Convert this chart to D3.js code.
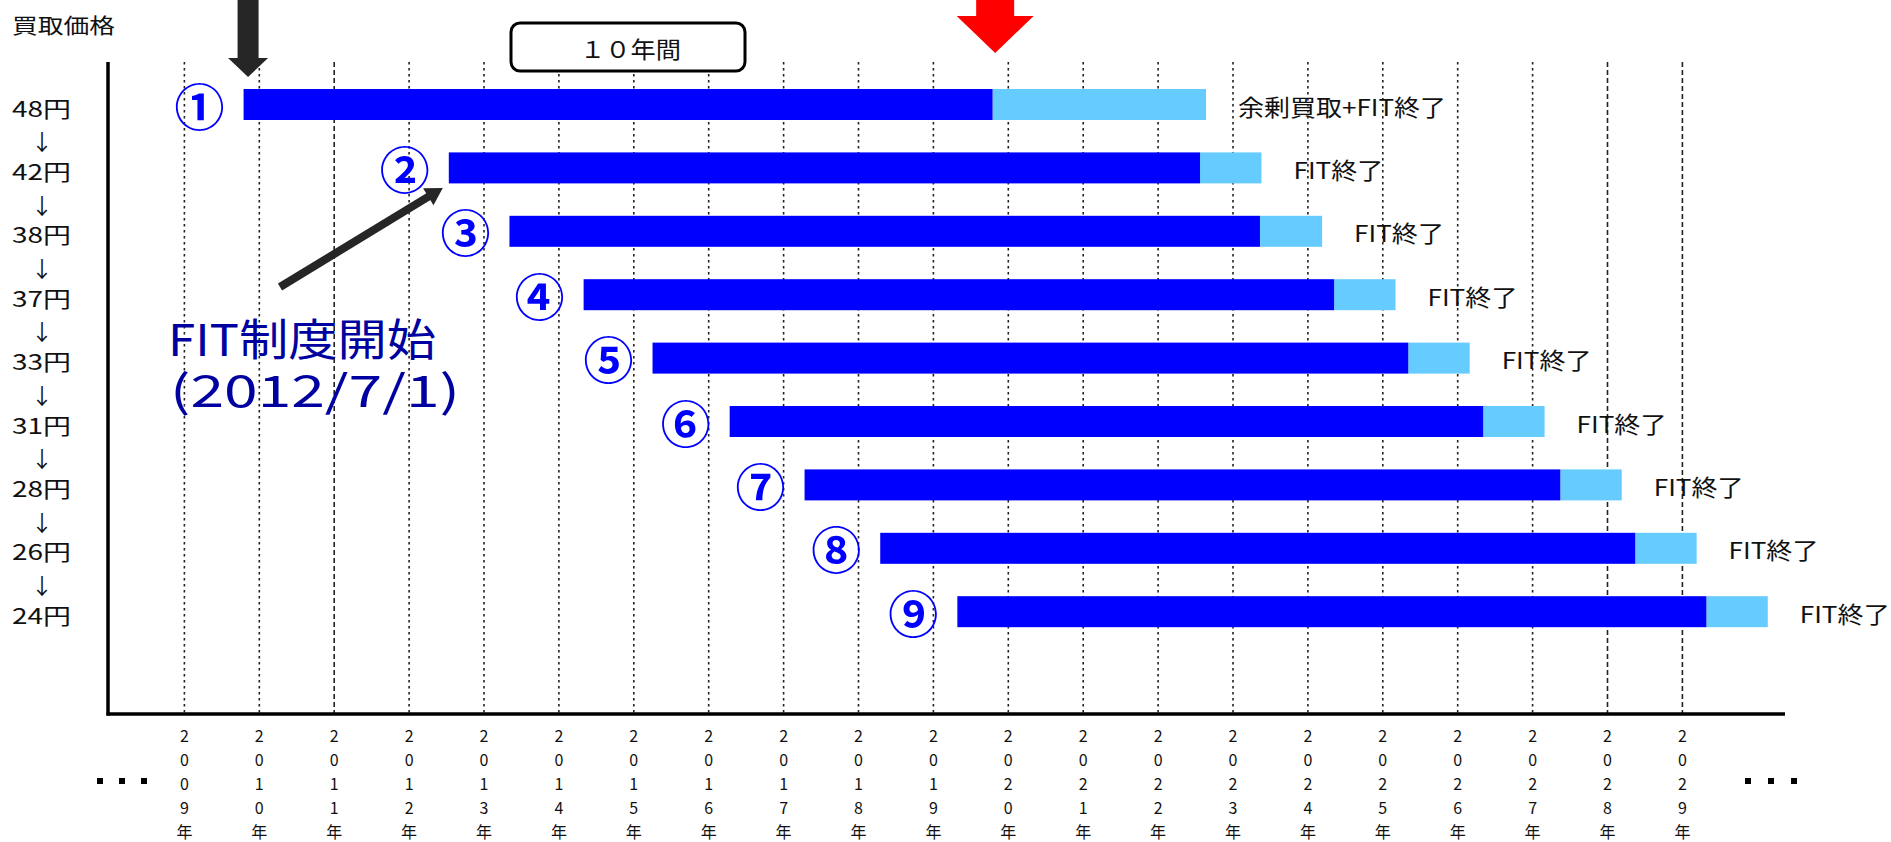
<!DOCTYPE html>
<html>
<head>
<meta charset="utf-8">
<script src="https://cdn.jsdelivr.net/npm/d3@7"></script>
<style>
body { margin: 0; background: #fff; }
svg { display: block; font-family: "Noto Sans CJK JP", "Noto Sans", sans-serif; }
</style>
</head>
<body>
<div id="chart"></div>
<script>
// values (years as fractions)
var prices = ["48円", "42円", "38円", "37円", "33円", "31円", "28円", "26円", "24円"];
var marks = ["①", "②", "③", "④", "⑤", "⑥", "⑦", "⑧", "⑨"];
var startYear = [2009.79, 2012.53, 2013.34, 2014.33, 2015.25, 2016.28, 2017.28, 2018.29, 2019.32];
var fitEnd = [2019.79, 2022.56, 2023.36, 2024.35, 2025.34, 2026.34, 2027.37, 2028.37, 2029.32];
var barEnd = [2022.64, 2023.38, 2024.19, 2025.17, 2026.16, 2027.16, 2028.19, 2029.19, 2030.14];
var endLabels = ["余剰買取+FIT終了", "FIT終了", "FIT終了", "FIT終了", "FIT終了", "FIT終了", "FIT終了", "FIT終了", "FIT終了"];
var years = [2009, 2010, 2011, 2012, 2013, 2014, 2015, 2016, 2017, 2018, 2019,
             2020, 2021, 2022, 2023, 2024, 2025, 2026, 2027, 2028, 2029];

var W = 1891, H = 842;
var dark = "#0000ff", light = "#66ccff";
var barH = 31;

var svg = d3.select("#chart").append("svg")
    .attr("width", W)
    .attr("height", H);

var x = d3.scaleLinear().domain([2009, 2029]).range([184.4, 1682.4]);
var y = d3.scalePoint().domain(prices).range([104.5, 611.7]);

var axisX = 108, axisY = 714, axisTop = 62, axisRight = 1785;

// dotted year lines (a few are drawn with longer dashes in the original)
var longDash = [2011, 2028, 2029];
svg.append("g")
    .selectAll("line")
    .data(years)
    .enter()
    .append("line")
    .attr("x1", function(d) { return x(d); })
    .attr("x2", function(d) { return x(d); })
    .attr("y1", axisTop)
    .attr("y2", axisY)
    .attr("stroke", "#222")
    .attr("stroke-width", 1.6)
    .attr("stroke-dasharray", function(d) { return longDash.indexOf(d) >= 0 ? "5,3" : "2.5,3.5"; });

// axes
svg.append("line").attr("x1", axisX).attr("x2", axisX).attr("y1", axisTop).attr("y2", axisY + 1.5)
    .attr("stroke", "#000").attr("stroke-width", 3.5);
svg.append("line").attr("x1", axisX - 1.5).attr("x2", axisRight).attr("y1", axisY).attr("y2", axisY)
    .attr("stroke", "#000").attr("stroke-width", 3.5);

// year labels, written top to bottom
var yl = svg.append("g")
    .selectAll("g")
    .data(years)
    .enter()
    .append("g")
    .attr("transform", function(d) { return "translate(" + x(d) + ",0)"; });
yl.selectAll("text")
    .data(function(d) { return String(d).split("").concat(["年"]); })
    .enter()
    .append("text")
    .attr("x", 0)
    .attr("y", function(d, i) { return 735 + i * 24; })
    .attr("text-anchor", "middle")
    .attr("dominant-baseline", "central")
    .style("font-size", "16px")
    .attr("fill", "#111")
    .text(function(d) { return d; });

// "..." at both ends of the time axis
var dotsL = [100, 122, 144], dotsR = [1748, 1771, 1794];
svg.append("g").selectAll("rect").data(dotsL.concat(dotsR)).enter().append("rect")
    .attr("x", function(d) { return d - 3; })
    .attr("y", 778)
    .attr("width", 6)
    .attr("height", 6)
    .attr("fill", "#000");

// y labels with arrows between
svg.append("text").attr("x", 12).attr("y", 24)
    .attr("dominant-baseline", "central")
    .attr("textLength", 103).attr("lengthAdjust", "spacingAndGlyphs")
    .style("font-size", "21px").attr("fill", "#111").text("買取価格");

svg.append("g").selectAll("text").data(prices).enter().append("text")
    .attr("x", 12)
    .attr("y", function(d) { return y(d) + 2; })
    .attr("dominant-baseline", "central")
    .attr("textLength", 59).attr("lengthAdjust", "spacingAndGlyphs")
    .style("font-size", "22px")
    .attr("fill", "#111")
    .text(function(d) { return d; });

svg.append("g").selectAll("text").data(prices.slice(1)).enter().append("text")
    .attr("x", 42)
    .attr("y", function(d, i) { return (y(prices[i]) + y(d)) / 2 + 4; })
    .attr("text-anchor", "middle")
    .attr("dominant-baseline", "central")
    .style("font-size", "22px")
    .attr("fill", "#111")
    .text("↓");

// bars
var rows = svg.append("g")
    .selectAll("g")
    .data(prices)
    .enter()
    .append("g");

rows.append("rect")
    .attr("x", function(d, i) { return x(fitEnd[i]); })
    .attr("y", function(d) { return y(d) - barH / 2; })
    .attr("width", function(d, i) { return x(barEnd[i]) - x(fitEnd[i]); })
    .attr("height", barH)
    .attr("fill", light);

rows.append("rect")
    .attr("x", function(d, i) { return x(startYear[i]); })
    .attr("y", function(d) { return y(d) - barH / 2; })
    .attr("width", function(d, i) { return x(fitEnd[i]) - x(startYear[i]); })
    .attr("height", barH)
    .attr("fill", dark);

rows.append("text")
    .attr("x", function(d, i) { return x(startYear[i]) - 44; })
    .attr("y", function(d) { return y(d) - 1; })
    .attr("text-anchor", "middle")
    .attr("dominant-baseline", "central")
    .style("font-size", "50px")
    .style("font-weight", "bold")
    .attr("fill", dark)
    .text(function(d, i) { return marks[i]; });

rows.append("text")
    .attr("x", function(d, i) { return x(barEnd[i]) + 32; })
    .attr("y", function(d) { return y(d) + 1; })
    .attr("dominant-baseline", "central")
    .attr("textLength", function(d, i) { return i == 0 ? 208 : 90; })
    .attr("lengthAdjust", "spacingAndGlyphs")
    .style("font-size", "23px")
    .attr("fill", "#111")
    .text(function(d, i) { return endLabels[i]; });

// 10 years box
svg.append("rect").attr("x", 511).attr("y", 23).attr("width", 234).attr("height", 48)
    .attr("rx", 9).attr("fill", "#fff").attr("stroke", "#000").attr("stroke-width", 3);
svg.append("text").attr("x", 580).attr("y", 48)
    .attr("dominant-baseline", "central")
    .attr("textLength", 101).attr("lengthAdjust", "spacingAndGlyphs")
    .style("font-size", "23px").attr("fill", "#111").text("１０年間");

// black arrow pointing at the start of ①
var bx = x(startYear[0]) + 4.5;
svg.append("polygon")
    .attr("points", [[bx - 10.5, 0], [bx + 10.5, 0], [bx + 10.5, 58], [bx + 20, 58], [bx, 77], [bx - 20, 58], [bx - 10.5, 58]].join(" "))
    .attr("fill", "#262626");

// red arrow at the end of ①'s FIT period; its caption is cut off by the top edge
var rx = x(fitEnd[0]) + 2.6;
svg.append("polygon")
    .attr("points", [[rx - 19, 0], [rx + 19, 0], [rx + 19, 16], [rx + 38.5, 16], [rx, 53], [rx - 38.5, 16], [rx - 19, 16]].join(" "))
    .attr("fill", "#ff0000");
svg.append("text").attr("x", 1185).attr("y", -4)
    .attr("textLength", 215).attr("lengthAdjust", "spacingAndGlyphs")
    .style("font-size", "34px").attr("fill", "#ff3333").text("2019年問題");

// FIT start annotation and its arrow
var tail = [280, 287];
var tip = [x(startYear[1]) - 6, y(prices[1]) + 20];
var dx = tip[0] - tail[0], dy = tip[1] - tail[1];
var len = Math.sqrt(dx * dx + dy * dy);
var ux = dx / len, uy = dy / len;
var nx = -uy, ny = ux;
svg.append("line")
    .attr("x1", tail[0]).attr("y1", tail[1])
    .attr("x2", tip[0] - ux * 12).attr("y2", tip[1] - uy * 12)
    .attr("stroke", "#262626").attr("stroke-width", 8);
var hb = [tip[0] - ux * 17, tip[1] - uy * 17];
svg.append("polygon")
    .attr("points", [[tip[0], tip[1]], [hb[0] + nx * 10, hb[1] + ny * 10], [hb[0] - nx * 10, hb[1] - ny * 10]].join(" "))
    .attr("fill", "#262626");

svg.append("text").attr("x", 168).attr("y", 356)
    .attr("textLength", 268).attr("lengthAdjust", "spacingAndGlyphs")
    .style("font-size", "44px").attr("fill", "#0000a0").text("FIT制度開始");
svg.append("text").attr("x", 170).attr("y", 407)
    .attr("textLength", 290).attr("lengthAdjust", "spacingAndGlyphs")
    .style("font-size", "44px").attr("fill", "#0000a0").text("(2012/7/1)");
</script>
</body>
</html>
